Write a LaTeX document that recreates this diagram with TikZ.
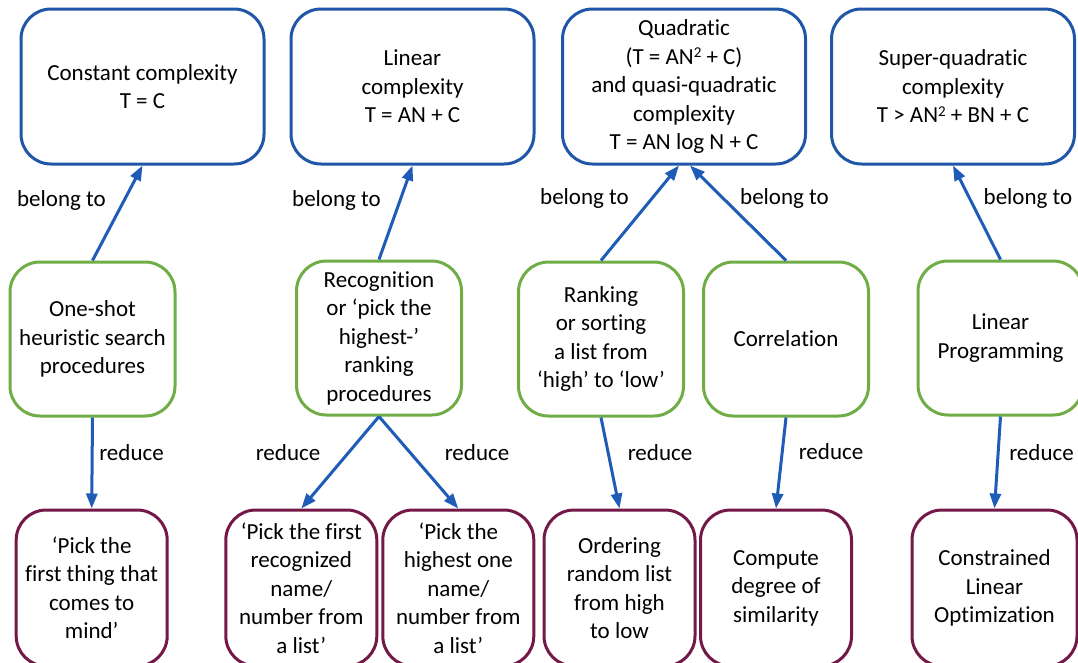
\documentclass[tikz,border=0pt]{standalone}
\usepackage{fontspec}
\setmainfont{Carlito}[Ligatures=NoCommon]
\usetikzlibrary{arrows.meta}
\definecolor{boxblue}{HTML}{1F56A8}
\definecolor{arrowblue}{HTML}{1F5CB8}
\definecolor{boxgreen}{HTML}{70AD47}
\definecolor{boxplum}{HTML}{741848}
% small raised exponent
\newcommand{\sqexp}{\raisebox{6.5pt}{\fontsize{15}{15}\selectfont 2}}
\begin{document}
\begin{tikzpicture}[x=1pt,y=-1pt,
  every node/.style={font=\fontsize{23}{28.5}\selectfont, align=center, inner sep=0pt},
  rbox/.style={draw, line width=3pt, rounded corners=30pt, fill=white},
  classbox/.style={rbox, draw=boxblue, minimum width=243pt, minimum height=155pt},
  procbox/.style={rbox, draw=boxgreen, minimum width=165pt, minimum height=154pt},
  taskbox/.style={rbox, draw=boxplum, minimum width=151pt, minimum height=156pt},
  link/.style={draw=arrowblue, line width=3pt, -{Triangle[length=15pt,width=11pt]}},
  lbl/.style={}
]
\clip (0,0) rectangle (1078,662);
\fill[white] (0,0) rectangle (1078,662);

% complexity classes
\node[classbox] (t1) at (142.5,86.5) {Constant complexity\\T = C};
\node[classbox] (t2) at (412.5,86.5) {Linear\\complexity\\T = AN + C};
\node[classbox] (t3) at (684,86.5) {Quadratic\\(T = AN\sqexp{} + C)\\and quasi-quadratic\\complexity\\T = AN log N + C};
\node[classbox] (t4) at (953,86.5) {Super-quadratic\\complexity\\T > AN\sqexp{} + BN + C};

% procedures
\node[procbox] (g1) at (92.5,339) {One-shot\\heuristic search\\procedures};
\node[procbox] (g2) at (379,338) {Recognition\\or ‘pick the\\highest-’\\ranking\\procedures};
\node[procbox] (g3) at (601,339) {Ranking\\or sorting\\a list from\\‘high’ to ‘low’};
\node[procbox] (g4) at (786,339) {Correlation};
\node[procbox] (g5) at (1000.5,338) {Linear\\Programming};

% reduced tasks
\node[taskbox] (b1) at (91.7,588) {‘Pick the\\first thing that\\comes to\\mind’};
\node[taskbox] (b2) at (301.3,588) {‘Pick the first\\recognized\\name/\\number from\\a list’};
\node[taskbox] (b3) at (458.3,588) {‘Pick the\\highest one\\name/\\number from\\a list’};
\node[taskbox] (b4) at (619.5,588) {Ordering\\random list\\from high\\to low};
\node[taskbox] (b5) at (776,588) {Compute\\degree of\\similarity};
\node[taskbox, minimum width=165pt] (b6) at (994.5,588) {Constrained\\Linear\\Optimization};

% belong-to links
\draw[link] (g1.north) -- (t1.south);
\draw[link] (g2.north) -- (t2.south);
\draw[link] (g3.north) -- ([xshift=-5pt]t3.south);
\draw[link] (g4.north) -- ([xshift=6pt]t3.south);
\draw[link] (g5.north) -- (t4.south);

% reduce links
\draw[link] (g1.south) -- (b1.north);
\draw[link] (g2.south) -- (b2.north);
\draw[link] (g2.south) -- (b3.north);
\draw[link] (g3.south) -- (b4.north);
\draw[link] (g4.south) -- (b5.north);
\draw[link] (g5.south) -- (b6.north);

% link labels
\node[lbl] (l1) at (61.5,200) {belong to};
\node[lbl] (l2) at (336.5,200) {belong to};
\node[lbl] (l3) at (584.5,198) {belong to};
\node[lbl] (l4) at (784.5,198) {belong to};
\node[lbl] (l5) at (1028,198) {belong to};

\node[lbl] (r1) at (131.5,453) {reduce};
\node[lbl] (r2) at (288,453) {reduce};
\node[lbl] (r3) at (477,453) {reduce};
\node[lbl] (r4) at (660,453) {reduce};
\node[lbl] (r5) at (831,452) {reduce};
\node[lbl] (r6) at (1041.5,453) {reduce};
\end{tikzpicture}
\end{document}
